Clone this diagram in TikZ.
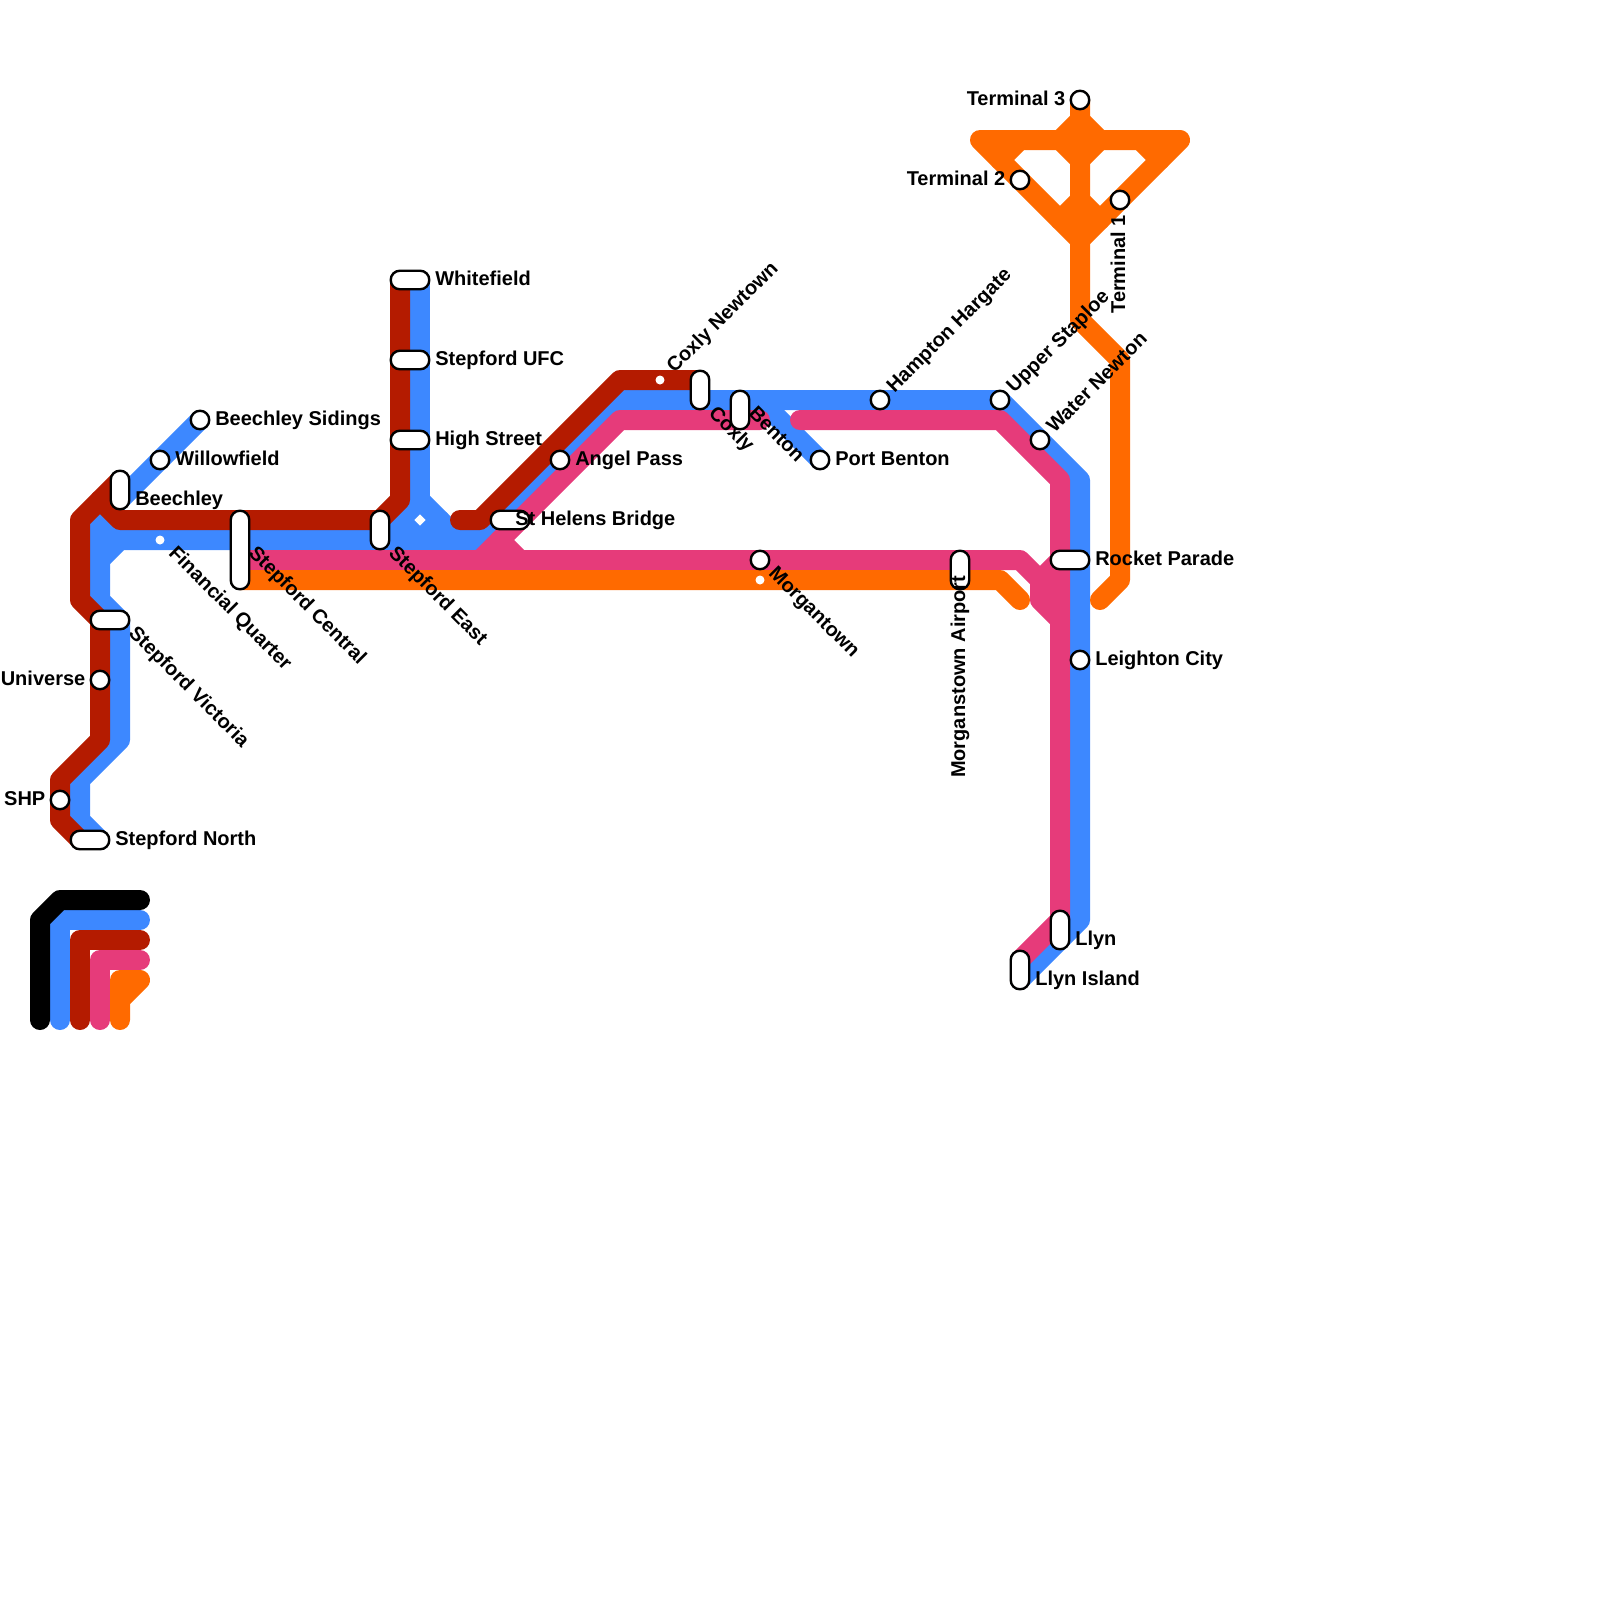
\documentclass[tikz,border=0pt]{standalone}
\usepackage{fontspec}
\setmainfont{Liberation Sans}

\definecolor{blueline}{HTML}{3d88ff}
\definecolor{redline}{HTML}{b41b00}
\definecolor{pinkline}{HTML}{e63b7a}
\definecolor{orangeline}{HTML}{ff6a00}

\begin{document}
\begin{tikzpicture}[
  x=0.2cm, y=-0.2cm,
  line cap=round, line join=round,
  every node/.style={inner sep=0pt},
  route/.style={line width=0.2cm},
  stn/.style={circle, draw=black, fill=white, line width=0.024cm, minimum size=0.185cm},
  pill/.style={rectangle, draw=black, fill=white, line width=0.024cm, rounded corners=0.09cm,
    minimum width=0.185cm, minimum height=0.185cm},
  dot/.style={circle, fill=white, minimum size=0.09cm},
  lab/.style={font=\bfseries\fontsize{5.69}{6.8}\selectfont, text=black},
]
\useasboundingbox (0,0) rectangle (80,80);

% legend
\draw[route, blueline] (3,51) -- (3,46) -- (7,46);
\draw[route, black] (2,51) -- (2,46) -- (3,45) -- (7,45);
\draw[route, redline] (4,51) -- (4,47) -- (7,47);
\draw[route, pinkline] (5,51) -- (5,48) -- (7,48);
\draw[route, orangeline] (6,51) -- (6,49) -- (7,49) -- (6,50);

% blue
\draw[route, blueline] (10,21) -- (5,26) -- (5,30) -- (6,31) -- (6,37) -- (4,39) -- (4,41) -- (5,42);
\draw[route, blueline] (5,26) -- (6,27);
\draw[route, blueline] (5,28) -- (6,27) -- (24,27) -- (31,20) -- (50,20) -- (54,24) -- (54,46) -- (51,49);
\draw[route, blueline] (21,14) -- (21,27);
\draw[route, blueline] (19,27) -- (21,25) -- (23,27);
\draw[route, blueline] (20,26) -- (22,26);
\draw[route, blueline] (38,20) -- (41,23);

% red
\draw[route, redline] (20,14) -- (20,25) -- (19,26) -- (6,26) -- (5,25) -- (4,26) -- (4,30) -- (5,31) -- (5,37) -- (3,39) -- (3,41) -- (4,42);
\draw[route, redline] (5,25) -- (6,24);
\draw[route, redline] (23,26) -- (24,26) -- (31,19) -- (35,19);

% pink
\draw[route, pinkline] (12,28) -- (51,28) -- (52,29) -- (52,30) -- (53,31) -- (53,46) -- (51,48);
\draw[route, pinkline] (53,28) -- (52,29);
\draw[route, pinkline] (24,28) -- (31,21) -- (38,21);
\draw[route, pinkline] (25,27) -- (26,28);
\draw[route, pinkline] (40,21) -- (50,21) -- (53,24) -- (53,31);

% orange
\draw[route, orangeline] (12,29) -- (50,29) -- (51,30);
\draw[route, orangeline] (55,30) -- (56,29) -- (56,18) -- (54,16) -- (54,5);
\draw[route, orangeline] (49,7) -- (59,7) -- (54,12) -- (49,7);
\draw[route, orangeline] (53,7) -- (54,6) -- (55,7) -- (54,8) -- cycle;
\draw[route, orangeline] (53,11) -- (54,10) -- (55,11);
\draw[route, orangeline] (50,8) -- (51,7);
\draw[route, orangeline] (57,7) -- (58,8);

% interchanges
\node[pill, minimum width=0.385cm] (whitefield) at (20.5,14) {};
\node[pill, minimum width=0.385cm] (ufc) at (20.5,18) {};
\node[pill, minimum width=0.385cm] (highstreet) at (20.5,22) {};
\node[pill, minimum width=0.385cm] (helens) at (25.5,26) {};
\node[pill, minimum width=0.385cm] (victoria) at (5.5,31) {};
\node[pill, minimum width=0.385cm] (north) at (4.5,42) {};
\node[pill, minimum width=0.385cm] (rocket) at (53.5,28) {};
\node[pill, minimum height=0.385cm] (beechley) at (6,24.5) {};
\node[pill, minimum height=0.785cm] (central) at (12,27.5) {};
\node[pill, minimum height=0.385cm] (east) at (19,26.5) {};
\node[pill, minimum height=0.385cm] (coxly) at (35,19.5) {};
\node[pill, minimum height=0.385cm] (benton) at (37,20.5) {};
\node[pill, minimum height=0.385cm] (airport) at (48,28.5) {};
\node[pill, minimum height=0.385cm] (llyn) at (53,46.5) {};
\node[pill, minimum height=0.385cm] (island) at (51,48.5) {};

% stations
\node[stn] (sidings) at (10,21) {};
\node[stn] (willow) at (8,23) {};
\node[stn] (universe) at (5,34) {};
\node[stn] (shp) at (3,40) {};
\node[stn] (angel) at (28,23) {};
\node[stn] (portbenton) at (41,23) {};
\node[stn] (morgan) at (38,28) {};
\node[stn] (hampton) at (44,20) {};
\node[stn] (staploe) at (50,20) {};
\node[stn] (water) at (52,22) {};
\node[stn] (leighton) at (54,33) {};
\node[stn] (term1) at (56,10) {};
\node[stn] (term2) at (51,9) {};
\node[stn] (term3) at (54,5) {};

% passing marks
\node[dot] (finmark) at (8,27) {};
\node[dot] (newtownmark) at (33,19) {};
\node[dot] (morganmark) at (38,29) {};
\node[rectangle, fill=white, rotate=45, minimum size=0.08cm] (eastmark) at (21,26) {};

% labels to the right
\node[lab, anchor=base west] (sidings-t) at (10.73,21.25) {Beechley Sidings};
\node[lab, anchor=base west] (willow-t) at (8.73,23.25) {Willowfield};
\node[lab, anchor=base west] (beechley-t) at (6.73,25.25) {Beechley};
\node[lab, anchor=base west] (whitefield-t) at (21.73,14.25) {Whitefield};
\node[lab, anchor=base west] (ufc-t) at (21.73,18.25) {Stepford UFC};
\node[lab, anchor=base west] (highstreet-t) at (21.73,22.25) {High Street};
\node[lab, anchor=base west] (angel-t) at (28.73,23.25) {Angel Pass};
\node[lab, anchor=base west] (helens-t) at (25.73,26.25) {St Helens Bridge};
\node[lab, anchor=base west] (portbenton-t) at (41.73,23.25) {Port Benton};
\node[lab, anchor=base west] (rocket-t) at (54.73,28.25) {Rocket Parade};
\node[lab, anchor=base west] (leighton-t) at (54.73,33.25) {Leighton City};
\node[lab, anchor=base west] (llyn-t) at (53.73,47.25) {Llyn};
\node[lab, anchor=base west] (island-t) at (51.73,49.25) {Llyn Island};
\node[lab, anchor=base west] (north-t) at (5.73,42.25) {Stepford North};

% labels to the left
\node[lab, anchor=base east] (universe-t) at (4.3,34.25) {Universe};
\node[lab, anchor=base east] (shp-t) at (2.3,40.25) {SHP};
\node[lab, anchor=base east] (term3-t) at (53.3,5.25) {Terminal 3};
\node[lab, anchor=base east] (term2-t) at (50.3,9.25) {Terminal 2};

% labels falling to the right
\node[lab, anchor=base west, rotate=-45] (fin-t) at (8.37,27.69) {Financial Quarter};
\node[lab, anchor=base west, rotate=-45] (central-t) at (12.37,27.69) {Stepford Central};
\node[lab, anchor=base west, rotate=-45] (east-t) at (19.37,27.69) {Stepford East};
\node[lab, anchor=base west, rotate=-45] (victoria-t) at (6.37,31.69) {Stepford Victoria};
\node[lab, anchor=base west, rotate=-45] (coxly-t) at (35.37,20.69) {Coxly};
\node[lab, anchor=base west, rotate=-45] (benton-t) at (37.37,20.69) {Benton};
\node[lab, anchor=base west, rotate=-45] (morgan-t) at (38.37,28.69) {Morgantown};

% labels rising to the right
\node[lab, anchor=base west, rotate=45] (newtown-t) at (33.7,18.72) {Coxly Newtown};
\node[lab, anchor=base west, rotate=45] (hampton-t) at (44.7,19.72) {Hampton Hargate};
\node[lab, anchor=base west, rotate=45] (staploe-t) at (50.7,19.72) {Upper Staploe};
\node[lab, anchor=base west, rotate=45] (water-t) at (52.7,21.72) {Water Newton};

% upright labels
\node[lab, anchor=base east, rotate=90] (airport-t) at (48.25,28.75) {Morganstown Airport};
\node[lab, anchor=base east, rotate=90] (term1-t) at (56.25,10.72) {Terminal 1};
\end{tikzpicture}
\end{document}
